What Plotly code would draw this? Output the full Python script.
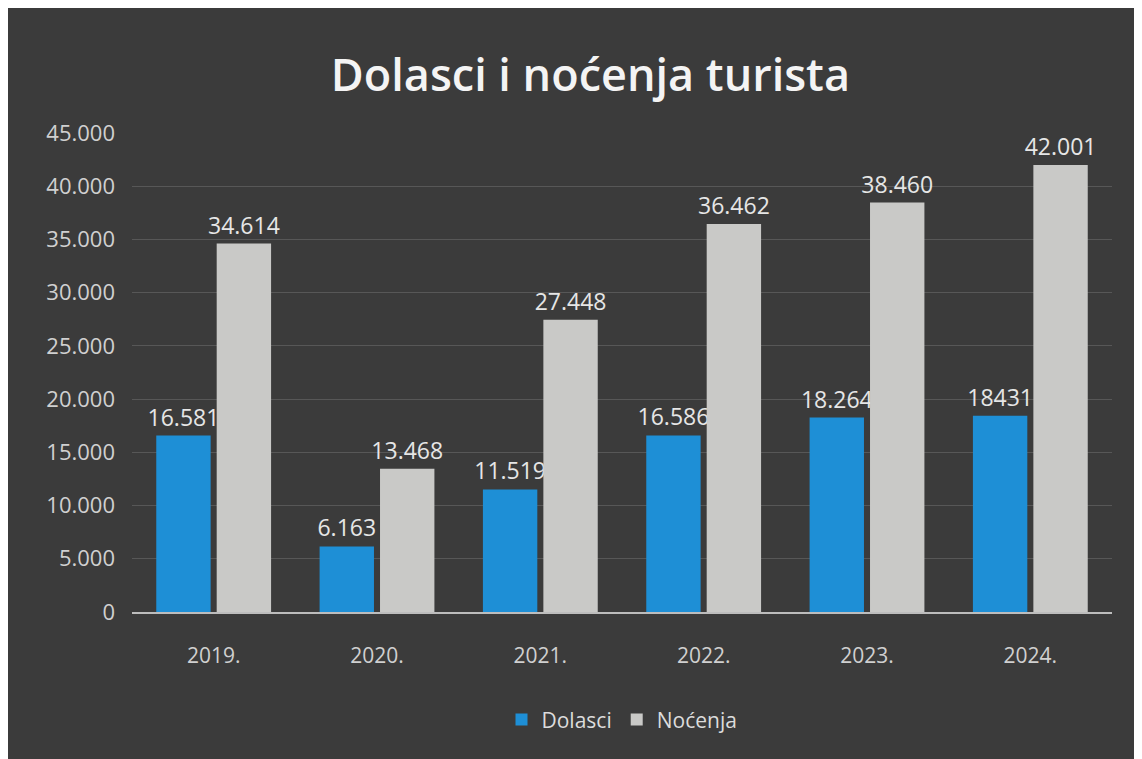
import plotly.graph_objects as go

years = ["2019.", "2020.", "2021.", "2022.", "2023.", "2024."]
dolasci = [16581, 6163, 11519, 16586, 18264, 18431]
nocenja = [34614, 13468, 27448, 36462, 38460, 42001]
dolasci_labels = ["16.581", "6.163", "11.519", "16.586", "18.264", "18431"]
nocenja_labels = ["34.614", "13.468", "27.448", "36.462", "38.460", "42.001"]
y_ticks = [0, 5000, 10000, 15000, 20000, 25000, 30000, 35000, 40000, 45000]

font_family = "Open Sans, Noto Sans, sans-serif"
label_color = "#e6e6e6"

fig = go.Figure()
fig.add_trace(go.Bar(
    name="Dolasci", x=years, y=dolasci, text=dolasci_labels,
    textposition="outside", cliponaxis=False, constraintext="none",
    marker=dict(color="#1e8fd6", line=dict(width=0)),
    textfont=dict(color=label_color, size=23, family=font_family),
))
fig.add_trace(go.Bar(
    name="Noćenja", x=years, y=nocenja, text=nocenja_labels,
    textposition="outside", cliponaxis=False, constraintext="none",
    marker=dict(color="#c9c9c7", line=dict(width=0)),
    textfont=dict(color=label_color, size=23, family=font_family),
))

fig.update_layout(
    width=1142, height=759,
    paper_bgcolor="#3b3b3b", plot_bgcolor="#3b3b3b",
    separators=",.",
    title=dict(text="Dolasci i noćenja turista", x=0.51, xanchor="center",
               y=0.912, yanchor="middle",
               font=dict(size=45, color="#f4f4f4", family=font_family, weight=600)),
    margin=dict(l=124, r=38, t=125, b=155),
    barmode="group", bargap=0.26, bargroupgap=0.1,
    showlegend=True,
    legend=dict(orientation="h", x=0.5, xanchor="center", y=-0.225, yanchor="middle",
                font=dict(size=21, color="#dcdcdc", family=font_family),
                itemwidth=30, traceorder="normal"),
    xaxis=dict(showgrid=False, showline=True, linecolor="#bdbdbd", linewidth=2,
               tickfont=dict(size=21, color="#d0d0d0", family=font_family),
               ticks="", ticklabelstandoff=24),
    yaxis=dict(range=[0, 45000], tickvals=y_ticks, tickformat=",d",
               showgrid=True, gridcolor="#575757", gridwidth=1, zeroline=False,
               showline=False, ticks="",
               tickfont=dict(size=22, color="#d0d0d0", family=font_family),
               ticklabelstandoff=16),
)

fig.write_html("out.html")
